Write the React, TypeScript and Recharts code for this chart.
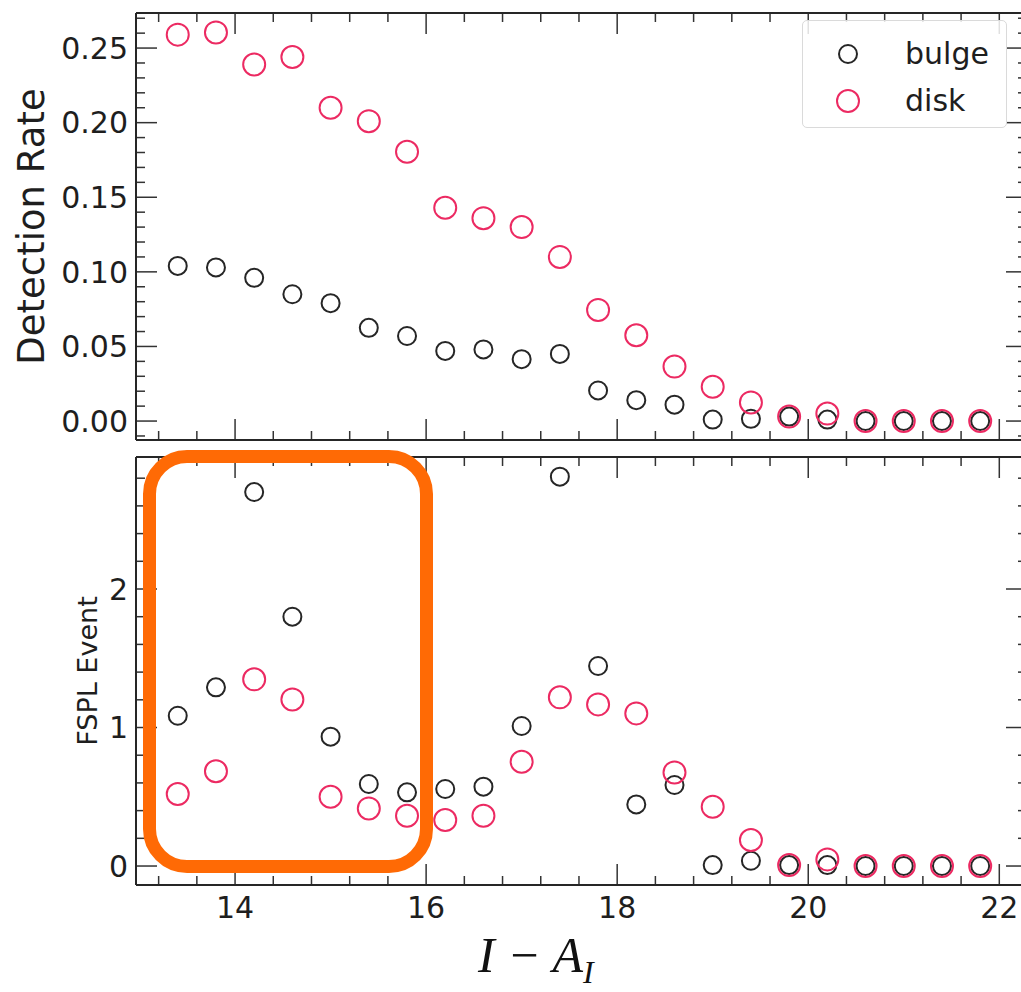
import { ScatterChart, Scatter, XAxis, YAxis, Legend, Label, ReferenceLine } from 'recharts';

// source magnitude bins (I - A_I)
const MAGS = [13.4, 13.8, 14.2, 14.6, 15.0, 15.4, 15.8, 16.2, 16.6, 17.0, 17.4, 17.8, 18.2, 18.6, 19.0, 19.4, 19.8, 20.2, 20.6, 21.0, 21.4, 21.8];

// detection rate per bin
const BULGE_RATE = [0.104, 0.103, 0.096, 0.085, 0.079, 0.0625, 0.057, 0.047, 0.048, 0.0415, 0.045, 0.0205, 0.014, 0.011, 0.001, 0.0015, 0.003, 0.001, 0, 0, 0, 0];
const DISK_RATE = [0.259, 0.2605, 0.239, 0.244, 0.21, 0.201, 0.1805, 0.143, 0.136, 0.13, 0.11, 0.0745, 0.0575, 0.0365, 0.023, 0.0125, 0.003, 0.005, 0, 0, 0, 0];

// FSPL events per bin
const BULGE_FSPL = [1.085, 1.29, 2.7, 1.8, 0.934, 0.592, 0.532, 0.556, 0.573, 1.011, 2.811, 1.444, 0.445, 0.585, 0.007, 0.038, 0.007, 0.007, 0, 0, 0, 0];
const DISK_FSPL = [0.52, 0.684, 1.348, 1.203, 0.5, 0.416, 0.363, 0.332, 0.363, 0.753, 1.218, 1.167, 1.102, 0.676, 0.428, 0.188, 0.007, 0.048, 0, 0, 0, 0];

// ticks
const X_MAJOR = [14, 16, 18, 20, 22];
const X_MINOR = [13.2, 13.6, 14.4, 14.8, 15.2, 15.6, 16.4, 16.8, 17.2, 17.6, 18.4, 18.8, 19.2, 19.6, 20.4, 20.8, 21.2, 21.6];
const RATE_MAJOR = [0, 0.05, 0.1, 0.15, 0.2, 0.25];
const RATE_MINOR = [-0.01, 0.01, 0.02, 0.03, 0.04, 0.06, 0.07, 0.08, 0.09, 0.11, 0.12, 0.13, 0.14, 0.16, 0.17, 0.18, 0.19, 0.21, 0.22, 0.23, 0.24, 0.26, 0.27];
const FSPL_MAJOR = [0, 1, 2];
const FSPL_MINOR = [0.2, 0.4, 0.6, 0.8, 1.2, 1.4, 1.6, 1.8, 2.2, 2.4, 2.6, 2.8];

const X_DOMAIN: [number, number] = [12.963, 22.29];
const RATE_DOMAIN: [number, number] = [-0.0127, 0.2735];
const FSPL_DOMAIN: [number, number] = [-0.137, 2.953];

const BULGE = { name: 'bulge', color: '#262626', r: 9 };
const DISK = { name: 'disk', color: '#ec2a62', r: 11 };

const FONT = "'DejaVu Sans', sans-serif";
const INK = '#1e1e1e';
const AXIS_LINE = { stroke: '#262626', strokeWidth: 2 };
const TICK_STROKE = { stroke: '#333', strokeWidth: 1.5 };
const TICK_TEXT = { fill: INK, fontSize: 30, fontFamily: FONT };
const MAJOR_LEN = 21;
const MINOR_LEN = 9;

const toRows = (ys: number[]) => MAGS.map((mag, i) => ({ mag, value: ys[i] }));

const ring = (r: number, color: string) => (props: any) => {
  const { cx, cy } = props;
  if (cx == null || cy == null) return <g />;
  return <circle cx={cx} cy={cy} r={r} fill="none" stroke={color} strokeWidth={2} />;
};

// inward tick marks at both ends of a vertical reference line (bottom + top frame)
const vTicks = (len: number) => (p: any) => {
  const top = Math.min(p.y1, p.y2);
  const bot = Math.max(p.y1, p.y2);
  return (
    <g>
      <line x1={p.x1} x2={p.x1} y1={bot} y2={bot - len} {...TICK_STROKE} />
      <line x1={p.x1} x2={p.x1} y1={top} y2={top + len} {...TICK_STROKE} />
    </g>
  );
};

// inward tick marks at both ends of a horizontal reference line (left + right frame)
const hTicks = (len: number) => (p: any) => {
  const left = Math.min(p.x1, p.x2);
  const right = Math.max(p.x1, p.x2);
  return (
    <g>
      <line x1={left} x2={left + len} y1={p.y1} y2={p.y1} {...TICK_STROKE} />
      <line x1={right} x2={right - len} y1={p.y1} y2={p.y1} {...TICK_STROKE} />
    </g>
  );
};

const sideLabel = (text: string, size: number, x: number) => (props: any) => {
  const vb = props.viewBox || { y: 0, height: 0 };
  const cy = vb.y + vb.height / 2;
  return (
    <text x={x} y={cy} transform={`rotate(-90 ${x} ${cy})`} textAnchor="middle" dominantBaseline="central"
      fontFamily={FONT} fontSize={size} fill={INK}>{text}</text>
  );
};

function KeyBox() {
  return (
    <div style={{ position: 'relative', boxSizing: 'border-box', width: 205, height: 108, border: '1.5px solid #dadada', borderRadius: 5, background: 'rgba(255,255,255,0.85)' }}>
      {[BULGE, DISK].map((s, i) => (
        <div key={s.name} style={{ position: 'absolute', left: 0, top: 10 + i * 47, height: 46, width: '100%' }}>
          <svg width={40} height={46} style={{ position: 'absolute', left: 25, top: 0 }}>
            <circle cx={20} cy={23} r={s.r} fill="none" stroke={s.color} strokeWidth={2} />
          </svg>
          <span style={{ position: 'absolute', left: 102, top: 4, fontFamily: FONT, fontSize: 30, color: INK, lineHeight: '38px' }}>{s.name}</span>
        </div>
      ))}
    </div>
  );
}

interface PanelProps {
  bulge: number[];
  disk: number[];
  yDomain: [number, number];
  yMajor: number[];
  yMinor: number[];
  yFormat: (v: number) => string;
  yLabel: string;
  yLabelSize: number;
  yLabelX: number;
  height: number;
  margin: { top: number; right: number; bottom: number; left: number };
  xLabels: boolean;
  legend?: boolean;
}

function Panel({ bulge, disk, yDomain, yMajor, yMinor, yFormat, yLabel, yLabelSize, yLabelX, height, margin, xLabels, legend }: PanelProps) {
  const xCommon = { type: 'number' as const, domain: X_DOMAIN, allowDataOverflow: true, interval: 0 as const };
  const yCommon = { type: 'number' as const, domain: yDomain, allowDataOverflow: true, interval: 0 as const };
  const none = () => <g />;
  return (
    <ScatterChart width={1040} height={height} margin={margin}>
      {xLabels ? (
        <XAxis xAxisId="x" dataKey="mag" {...xCommon} ticks={X_MAJOR} height={40} tickSize={0} tickMargin={12}
          tickLine={false} tick={TICK_TEXT} axisLine={AXIS_LINE} />
      ) : (
        <XAxis xAxisId="x" dataKey="mag" {...xCommon} ticks={X_MAJOR} mirror height={1} tick={none}
          tickLine={false} axisLine={AXIS_LINE} />
      )}
      <XAxis xAxisId="xTop" orientation="top" {...xCommon} ticks={X_MAJOR} mirror height={1} tick={none} tickLine={false} axisLine={AXIS_LINE} />

      <YAxis yAxisId="y" dataKey="value" {...yCommon} ticks={yMajor} width={136} tickSize={0} tickMargin={8}
        tickLine={false} tick={TICK_TEXT} axisLine={AXIS_LINE} tickFormatter={yFormat}>
        <Label content={sideLabel(yLabel, yLabelSize, yLabelX)} />
      </YAxis>
      <YAxis yAxisId="yR" orientation="right" {...yCommon} ticks={yMajor} mirror width={1} tick={none} tickLine={false} axisLine={AXIS_LINE} />

      {X_MAJOR.map((v) => <ReferenceLine key={`xM${v}`} x={v} xAxisId="x" yAxisId="y" shape={vTicks(MAJOR_LEN)} />)}
      {X_MINOR.map((v) => <ReferenceLine key={`xm${v}`} x={v} xAxisId="x" yAxisId="y" shape={vTicks(MINOR_LEN)} />)}
      {yMajor.map((v) => <ReferenceLine key={`yM${v}`} y={v} xAxisId="x" yAxisId="y" shape={hTicks(MAJOR_LEN)} />)}
      {yMinor.map((v) => <ReferenceLine key={`ym${v}`} y={v} xAxisId="x" yAxisId="y" shape={hTicks(MINOR_LEN)} />)}

      <Scatter name={BULGE.name} data={toRows(bulge)} xAxisId="x" yAxisId="y" fill={BULGE.color}
        shape={ring(BULGE.r, BULGE.color)} isAnimationActive={false} />
      <Scatter name={DISK.name} data={toRows(disk)} xAxisId="x" yAxisId="y" fill={DISK.color}
        shape={ring(DISK.r, DISK.color)} isAnimationActive={false} />

      {legend && (
        <Legend layout="horizontal" verticalAlign="middle" align="center" content={() => <KeyBox />}
          wrapperStyle={{ left: 802, top: 20, width: 205, height: 108 }} />
      )}
    </ScatterChart>
  );
}

export default function App() {
  return (
    <div style={{ position: 'fixed', left: 0, top: 0, width: 1021, height: 992, overflow: 'hidden', background: '#fff' }}>
      <div style={{ position: 'absolute', left: 0, top: 0 }}>
        <Panel bulge={BULGE_RATE} disk={DISK_RATE} yDomain={RATE_DOMAIN} yMajor={RATE_MAJOR} yMinor={RATE_MINOR}
          yFormat={(v) => v.toFixed(2)} yLabel="Detection Rate" yLabelSize={37} yLabelX={31}
          height={450} margin={{ top: 13, right: 13, bottom: 10, left: 0 }} xLabels={false} legend />
      </div>
      <div style={{ position: 'absolute', left: 0, top: 440 }}>
        <Panel bulge={BULGE_FSPL} disk={DISK_FSPL} yDomain={FSPL_DOMAIN} yMajor={FSPL_MAJOR} yMinor={FSPL_MINOR}
          yFormat={(v) => String(v)} yLabel="FSPL Event" yLabelSize={27} yLabelX={87}
          height={552} margin={{ top: 17, right: 13, bottom: 67, left: 0 }} xLabels />
      </div>

      {/* highlight box around the bright end of the bulge/disk sample */}
      <div style={{ position: 'absolute', left: 143, top: 450, width: 290, height: 423, boxSizing: 'border-box',
        border: '13px solid #ff6a05', borderRadius: 44 }} />

      <div style={{ position: 'absolute', left: 478, top: 929, fontFamily: "'Liberation Serif', serif", fontStyle: 'italic',
        fontSize: 50, lineHeight: '52px', color: '#111', whiteSpace: 'nowrap' }}>
        I − A<span style={{ fontSize: 32, position: 'relative', top: 11 }}>I</span>
      </div>
    </div>
  );
}
